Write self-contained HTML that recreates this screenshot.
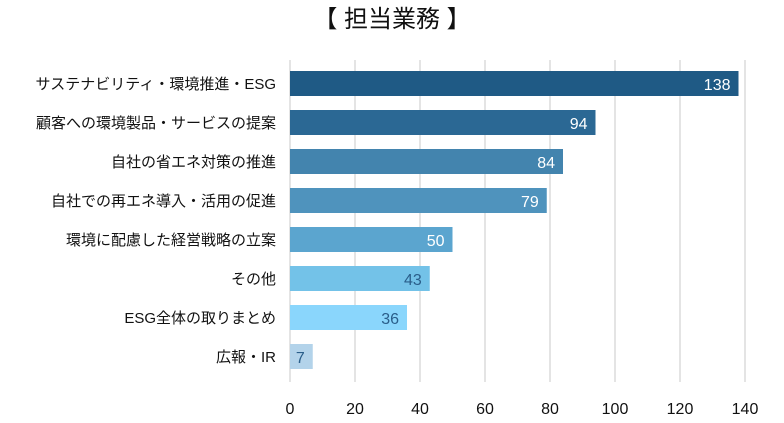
<!DOCTYPE html>
<html><head><meta charset="utf-8"><style>
body{margin:0;background:#fff;width:784px;height:418px;overflow:hidden;font-family:"Liberation Sans","Noto Sans CJK JP",sans-serif;}
</style></head><body>
<svg id="c" width="784" height="418" xmlns="http://www.w3.org/2000/svg">
<text x="392" y="27" text-anchor="middle" font-size="24" fill="#111">【 担当業務 】</text>
<g id="grid"></g><g id="bars"></g><g id="labels"></g>
</svg>
<script>
const categories=["サステナビリティ・環境推進・ESG","顧客への環境製品・サービスの提案","自社の省エネ対策の推進","自社での再エネ導入・活用の促進","環境に配慮した経営戦略の立案","その他","ESG全体の取りまとめ","広報・IR"];
const values=[138,94,84,79,50,43,36,7];
const ticks=[0,20,40,60,80,100,120,140];
const colors=["#1f5a85","#2b6894","#4384ae","#4f93bd","#5ba5cf","#73c2e8","#8ad6fc","#b3d3ea"];
const ns="http://www.w3.org/2000/svg";
const x=v=>290+v*3.25;
const y=i=>71+i*39;
function mk(t,a,p){const e=document.createElementNS(ns,t);for(const k in a)e.setAttribute(k,a[k]);p.appendChild(e);return e;}
const g=document.getElementById('grid'),b=document.getElementById('bars'),l=document.getElementById('labels');
ticks.forEach(t=>{
 const ln=mk('line',{x1:x(t),x2:x(t),y1:60,y2:382,stroke:'#c8c8c8','stroke-width':1},g);
 
 
 const tx=mk('text',{x:x(t),y:414,'text-anchor':'middle','font-size':16,fill:'#111'},g);
 tx.textContent=t;
 
 
});
categories.forEach((c,i)=>{
 const r=mk('rect',{x:x(0),y:y(i),width:x(values[i])-x(0),height:25,fill:colors[i]},b);
 
 
 const v=mk('text',{x:x(values[i])-8,y:y(i)+19,'text-anchor':'end','font-size':16,fill:i<5?'#fff':'#2a5e8a'},b);
 v.textContent=values[i];
 
 
 const ct=mk('text',{x:276,y:y(i)+18,'text-anchor':'end','font-size':15,fill:'#111'},l);
 ct.textContent=c;
 
 
});
</script>
</body></html>
